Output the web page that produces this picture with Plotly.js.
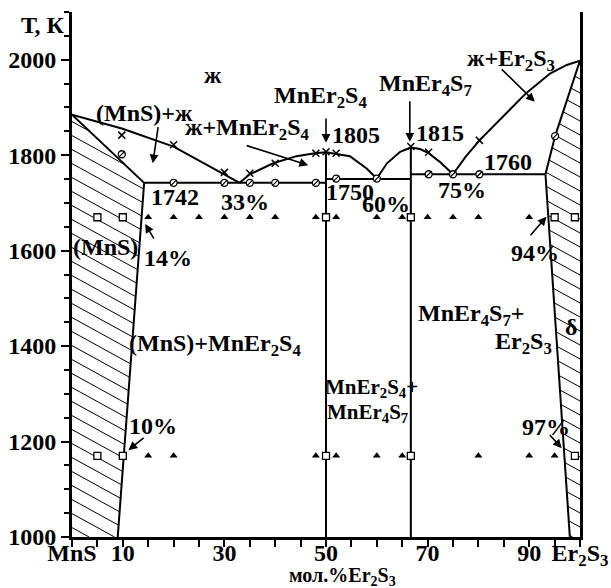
<!DOCTYPE html>
<html><head><meta charset="utf-8">
<script src="https://cdn.plot.ly/plotly-3.0.1.min.js"></script>
<style>html,body{margin:0;padding:0;background:#fff}</style>
</head><body><div id="chart" style="width:611px;height:588px"></div>
<script>
// ---------- data (mol.% Er2S3, T in K) ----------
const liqL_x = [0, 9.8, 20, 29.1, 33];
const liqL_T = [1885, 1856, 1818, 1765, 1742];
const solL_x = [0, 14.2];
const solL_T = [1885, 1742];
const solvL_x = [14.2, 9];
const solvL_T = [1742, 1000];
const eut1_x = [14.2, 50];
const eut1_T = [1742, 1742];
const liq2_x = [33, 35, 39.6, 44.2, 47.8, 50];
const liq2_T = [1742, 1760, 1783, 1798, 1804, 1806];
const liq3_x = [50, 52, 54.7, 58, 60];
const liq3_T = [1806, 1803, 1798, 1772, 1751];
const eut2_x = [50, 66.7];
const eut2_T = [1750, 1750];
const liq4_x = [60, 62, 64.6, 66.7];
const liq4_T = [1751, 1783, 1807, 1816];
const liq5_x = [66.7, 68.5, 70.1, 72.4, 75];
const liq5_T = [1816, 1813, 1805, 1786, 1760];
const liq6_x = [75, 77.5, 80.3, 85.6, 89.4, 94.1, 97.4, 100];
const liq6_T = [1760, 1797, 1832, 1888, 1930, 1971, 1989, 1998];
const eut3_x = [66.7, 93.2];
const eut3_T = [1760, 1760];
const solR_x = [100, 95.1, 93.2];
const solR_T = [1998, 1840, 1760];
const solvR_x = [93.2, 98];
const solvR_T = [1760, 1000];
const cmp1_x = [50, 50];
const cmp1_T = [1000, 1806];
const cmp2_x = [66.7, 66.7];
const cmp2_T = [1000, 1816];

// experimental points
const crossX = [9.8, 20, 30, 35, 40, 48, 50, 52, 66.7, 70.2, 80.2];
const crossT = [1842, 1822, 1764, 1762, 1783, 1804, 1807, 1804, 1818, 1806, 1831];
const circX = [9.8, 20, 30, 35, 40, 48, 52, 60, 70.2, 75, 80.2, 95.1];
const circT = [1802, 1742, 1742, 1742, 1742, 1742, 1751, 1751, 1760, 1760, 1760, 1840];
const sqX = [5, 10, 50, 66.7, 95, 99, 5, 10, 50, 66.7, 99];
const sqT = [1670, 1670, 1670, 1670, 1670, 1670, 1170, 1170, 1170, 1170, 1170];
const triX = [15, 20, 25, 30, 35, 40, 48, 52, 60, 65, 70, 75, 80, 90, 15, 20, 48, 52, 60, 65, 80, 90, 95];
const triT = [1670,1670,1670,1670,1670,1670,1670,1670,1670,1670,1670,1670,1670,1670,1170,1170,1170,1170,1170,1170,1170,1170,1170];

// ticks
const xTickVals = [0, 10, 30, 50, 70, 90, 100];
const xTickText = ['MnS', '10', '30', '50', '70', '90', 'Er<sub>2</sub>S<sub>3</sub>'];
const yTickVals = [1000, 1200, 1400, 1600, 1800, 2000];
const yTickText = ['1000', '1200', '1400', '1600', '1800', '2000'];

// ---------- layout geometry ----------
const W = 611, H = 588;
const M = {l: 72, r: 31, t: 12, b: 51};
const XR = [0, 100], YR = [1000, 2100];
const PW = W - M.l - M.r, PH = H - M.t - M.b;
const toPx = (x, T) => [M.l + (x - XR[0]) / (XR[1] - XR[0]) * PW, M.t + (YR[1] - T) / (YR[1] - YR[0]) * PH];
const toData = (px, py) => [XR[0] + (px - M.l) / PW * (XR[1] - XR[0]), YR[1] - (py - M.t) / PH * (YR[1] - YR[0])];

// hatch lines clipped to a convex polygon (pixel space)
function hatch(polyX, polyT, slope, step) {
  const P = polyX.map((x, i) => toPx(x, polyT[i]));
  const hx = [], hy = [];
  for (let c = -1500; c < 1500; c += step) {
    const pts = [];
    for (let i = 0; i < P.length; i++) {
      const a = P[i], b = P[(i + 1) % P.length];
      const fa = a[1] - slope * a[0] - c, fb = b[1] - slope * b[0] - c;
      if ((fa <= 0 && fb > 0) || (fa > 0 && fb <= 0)) {
        const t = fa / (fa - fb);
        pts.push([a[0] + t * (b[0] - a[0]), a[1] + t * (b[1] - a[1])]);
      }
    }
    if (pts.length >= 2) {
      pts.sort((p, q) => p[0] - q[0]);
      const d1 = toData(...pts[0]), d2 = toData(...pts[pts.length - 1]);
      hx.push(d1[0], d2[0], null); hy.push(d1[1], d2[1], null);
    }
  }
  return {hx, hy};
}
const polyLx = [0, solL_x[0], solL_x[1], solvL_x[1]];
const polyLT = [1000, solL_T[0], solL_T[1], solvL_T[1]];
const polyRx = [100, solR_x[0], solR_x[1], solR_x[2], solvR_x[1]];
const polyRT = [1000, solR_T[0], solR_T[1], solR_T[2], solvR_T[1]];
const hL = hatch(polyLx, polyLT, 0.55, 14);
const hR = hatch(polyRx, polyRT, 0.55, 14);

const LW = 2;
const line = (x, y) => ({x, y, type: 'scatter', mode: 'lines', line: {color: 'black', width: LW}, hoverinfo: 'skip', showlegend: false});
const traces = [
  {x: hL.hx.concat(hR.hx), y: hL.hy.concat(hR.hy), type: 'scatter', mode: 'lines', line: {color: 'black', width: 1}, connectgaps: false, showlegend: false, hoverinfo: 'skip'},
  line(liqL_x, liqL_T), line(solL_x, solL_T), line(solvL_x, solvL_T), line(eut1_x, eut1_T),
  line(liq2_x, liq2_T), line(liq3_x, liq3_T), line(eut2_x, eut2_T), line(liq4_x, liq4_T),
  line(liq5_x, liq5_T), line(liq6_x, liq6_T), line(eut3_x, eut3_T), line(solR_x, solR_T),
  line(solvR_x, solvR_T), line(cmp1_x, cmp1_T), line(cmp2_x, cmp2_T),
  {x: crossX, y: crossT, type: 'scatter', mode: 'markers', marker: {symbol: 'x-thin-open', size: 7, color: 'black', line: {width: 1.5, color: 'black'}}, showlegend: false},
  {x: circX, y: circT, type: 'scatter', mode: 'markers', marker: {symbol: 'circle', size: 7, color: 'white', line: {width: 1.3, color: 'black'}}, showlegend: false},
  {x: circX, y: circT, type: 'scatter', mode: 'markers', marker: {symbol: 'line-ne-open', size: 6, color: 'black', line: {width: 1.2, color: 'black'}}, showlegend: false},
  {x: sqX, y: sqT, type: 'scatter', mode: 'markers', marker: {symbol: 'square', size: 7, color: 'white', line: {width: 1.3, color: 'black'}}, showlegend: false},
  {x: triX, y: triT, type: 'scatter', mode: 'markers', marker: {symbol: 'triangle-up', size: 7, color: 'black', line: {width: 0}}, showlegend: false}
];

const F = {family: 'Liberation Serif, Times New Roman, serif', size: 24, color: 'black', weight: 'bold'};
const Fs = Object.assign({}, F, {size: 21});
const txt = (x, y, text, font) => ({x, y, xref: 'x', yref: 'y', text, showarrow: false, font: font || F, xanchor: 'center', yanchor: 'middle'});
const arr = (x, y, ax, ay) => ({x, y, ax, ay, xref: 'x', yref: 'y', axref: 'x', ayref: 'y', text: '', showarrow: true, arrowhead: 2, arrowsize: 1.1, arrowwidth: 1.6, arrowcolor: 'black', standoff: 0, startstandoff: 0});

const annotations = [
  txt(27.8, 1968, 'ж'),
  txt(14.2, 1888, '(MnS)+ж'),
  txt(34.6, 1855, 'ж+MnEr<sub>2</sub>S<sub>4</sub>'),
  txt(49, 1922, 'MnEr<sub>2</sub>S<sub>4</sub>'),
  txt(69.5, 1947, 'MnEr<sub>4</sub>S<sub>7</sub>'),
  txt(55.9, 1842, '1805'),
  txt(72.4, 1846, '1815'),
  txt(20.3, 1712, '1742'),
  txt(34.1, 1702, '33%'),
  txt(54.7, 1723, '1750'),
  txt(61.8, 1698, '60%'),
  txt(76.8, 1727, '75%'),
  txt(85.8, 1786, '1760'),
  txt(86.4, 1999, 'ж+Er<sub>2</sub>S<sub>3</sub>'),
  txt(6.5, 1608, '(MnS)'),
  txt(18.9, 1585, '14%'),
  txt(91.1, 1595, '94%'),
  txt(28.1, 1402, '(MnS)+MnEr<sub>2</sub>S<sub>4</sub>'),
  txt(78.7, 1465, 'MnEr<sub>4</sub>S<sub>7</sub>+'),
  txt(88.8, 1406, 'Er<sub>2</sub>S<sub>3</sub>'),
  txt(98.2, 1441, 'δ'),
  txt(58.9, 1312, 'MnEr<sub>2</sub>S<sub>4</sub>+', Fs),
  txt(58.1, 1260, 'MnEr<sub>4</sub>S<sub>7</sub>', Fs),
  txt(15.9, 1233, '10%'),
  txt(93.3, 1230, '97%'),
  arr(15.9, 1783, 17, 1862),
  arr(46.5, 1779, 34.1, 1821),
  arr(50, 1826, 50, 1880),
  arr(66.5, 1828, 66.5, 1916),
  arr(91.1, 1912, 84.3, 1983),
  arr(14.4, 1656, 16.3, 1622),
  arr(11.1, 1182, 14.4, 1210),
  arr(93.4, 1671, 90.0, 1629),
  arr(96.4, 1186, 93.8, 1217),
  {xref: 'paper', yref: 'paper', x: -0.057, y: 1.0, xanchor: 'center', yanchor: 'middle', yshift: -13, text: 'Т, К', showarrow: false, font: F},
  {xref: 'paper', yref: 'paper', x: (342 - M.l) / PW, y: 0, yshift: -39, xanchor: 'center', yanchor: 'middle', text: 'мол.%Er<sub>2</sub>S<sub>3</sub>', showarrow: false, font: Object.assign({}, F, {size: 20})}
];

const layout = {
  width: W, height: H,
  margin: M,
  paper_bgcolor: 'white', plot_bgcolor: 'white',
  showlegend: false,
  font: F,
  xaxis: {range: XR, showgrid: false, zeroline: false, showline: true, linewidth: 3, linecolor: 'black',
    tickmode: 'array', tickvals: xTickVals, ticktext: xTickText, ticks: 'outside', ticklen: 7, tickwidth: 2, tickcolor: 'black',
    ticklabelstandoff: -15,
    tickfont: F, minor: {tickmode: 'linear', tick0: 0, dtick: 5, ticks: 'outside', ticklen: 7, tickwidth: 2, tickcolor: 'black', showgrid: false}},
  yaxis: {range: YR, showgrid: false, zeroline: false, showline: true, linewidth: 3, linecolor: 'black', mirror: true,
    tickmode: 'array', tickvals: yTickVals, ticktext: yTickText, ticks: 'outside', ticklen: 8, tickwidth: 2, tickcolor: 'black',
    tickfont: F, minor: {tickmode: 'linear', tick0: 0, dtick: 50, ticks: 'outside', ticklen: 5, tickwidth: 2, tickcolor: 'black', showgrid: false}},
  annotations
};
Plotly.newPlot('chart', traces, layout, {staticPlot: true, displayModeBar: false});
</script></body></html>
